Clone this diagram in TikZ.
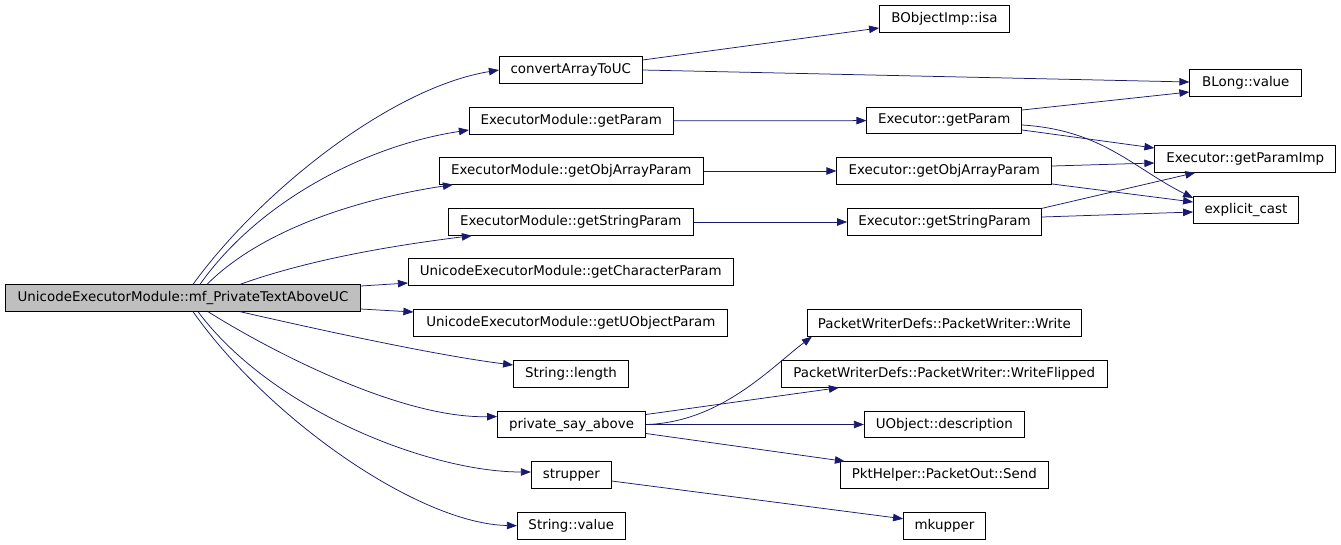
\documentclass[tikz,border=0pt]{standalone}
\usepackage{fontspec}
\setmainfont{DejaVu Sans}
\usepackage{tikz}
\usetikzlibrary{arrows.meta}
\definecolor{edgeblue}{HTML}{191970}
\definecolor{rootgray}{HTML}{BFBFBF}

\begin{document}
\begin{tikzpicture}[
  x=1pt,y=-1pt,
  fn/.style={draw=black,line width=0.8pt,fill=white,inner sep=0pt,minimum height=26.5pt,font=\fontsize{13.4}{16}\selectfont},
  rootfn/.style={fn,fill=rootgray},
  call/.style={-{Triangle[length=10pt,width=7.5pt]},line width=0.75pt,draw=edgeblue}
]
\useasboundingbox (0,0) rectangle (1341,544);
\node[rootfn,minimum width=355pt] (root) at (183,298) {UnicodeExecutorModule::mf\_PrivateTextAboveUC};
\node[fn,minimum width=143pt] (convert) at (570.8,70) {convertArrayToUC};
\node[fn,minimum width=130pt] (isa) at (944.5,19) {BObjectImp::isa};
\node[fn,minimum width=112pt] (blong) at (1245.8,83) {BLong::value};
\node[fn,minimum width=204pt] (modparam) at (571.3,121) {ExecutorModule::getParam};
\node[fn,minimum width=155pt] (exparam) at (944.3,120.5) {Executor::getParam};
\node[fn,minimum width=181pt] (paramimp) at (1245.3,159) {Executor::getParamImp};
\node[fn,minimum width=264pt] (modobjarr) at (571.3,171) {ExecutorModule::getObjArrayParam};
\node[fn,minimum width=215pt] (exobjarr) at (944.3,171) {Executor::getObjArrayParam};
\node[fn,minimum width=105pt] (cast) at (1246,210) {explicit\_cast};
\node[fn,minimum width=245pt] (modstring) at (570.8,222) {ExecutorModule::getStringParam};
\node[fn,minimum width=194pt] (exstring) at (944.5,222) {Executor::getStringParam};
\node[fn,minimum width=325pt] (charparam) at (570.8,272) {UnicodeExecutorModule::getCharacterParam};
\node[fn,minimum width=314pt] (uobjparam) at (570.8,323) {UnicodeExecutorModule::getUObjectParam};
\node[fn,minimum width=274pt] (write) at (944.3,323) {PacketWriterDefs::PacketWriter::Write};
\node[fn,minimum width=115pt] (length) at (571,374) {String::length};
\node[fn,minimum width=326pt] (flipped) at (944.3,374) {PacketWriterDefs::PacketWriter::WriteFlipped};
\node[fn,minimum width=148pt] (sayabove) at (571.5,424.5) {private\_say\_above};
\node[fn,minimum width=160pt] (descr) at (944.3,424.5) {UObject::description};
\node[fn,minimum width=208pt] (send) at (944.3,475) {PktHelper::PacketOut::Send};
\node[fn,minimum width=80pt] (strupper) at (571.3,475) {strupper};
\node[fn,minimum width=82pt] (mkupper) at (944.5,525.8) {mkupper};
\node[fn,minimum width=108pt] (strvalue) at (571.3,525.7) {String::value};
\draw[call] ([xshift=10pt]root.north) .. controls +(65,-90) and +(-110,18) .. (convert.west);
\draw[call] ([xshift=17pt]root.north) .. controls +(60,-85) and +(-100,15) .. ([yshift=-9pt]modparam.west);
\draw[call] ([xshift=24pt]root.north) .. controls +(60,-60) and +(-80,12) .. ([xshift=14pt]modobjarr.south west);
\draw[call] ([xshift=57pt]root.north) .. controls +(70,-25) and +(-80,10) .. ([xshift=24pt]modstring.south west);
\draw[call] ([yshift=12pt]root.east) -- ([yshift=-11pt]charparam.west);
\draw[call] ([yshift=-11pt]root.east) -- ([yshift=11pt]uobjparam.west);
\draw[call] ([xshift=57pt]root.south) .. controls +(70,16) and +(-80,-10) .. ([yshift=9pt]length.west);
\draw[call] ([xshift=25pt]root.south) .. controls +(62,39) and +(-97,2) .. ([yshift=8pt]sayabove.west);
\draw[call] ([xshift=15pt]root.south) .. controls +(74,99) and +(-101,0) .. ([yshift=3pt]strupper.west);
\draw[call] ([xshift=10pt]root.south) .. controls +(77,109) and +(-97,-2) .. (strvalue.west);
\draw[call] ([yshift=10pt]convert.east) -- ([yshift=-9pt]isa.west);
\draw[call] (convert.east) -- ([yshift=1pt]blong.west);
\draw[call] (modparam) -- (exparam);
\draw[call] ([yshift=10.5pt]exparam.east) -- ([yshift=-9pt]blong.west);
\draw[call] ([yshift=-9.5pt]exparam.east) -- ([yshift=11pt]paramimp.west);
\draw[call] ([yshift=-4.5pt]exparam.east) .. controls +(80,5) and +(-60,-30) .. ([yshift=12pt]cast.west);
\draw[call] (modobjarr) -- (exobjarr);
\draw[call] ([yshift=5pt]exobjarr.east) -- ([yshift=-4pt]paramimp.west);
\draw[call] ([yshift=-13pt]exobjarr.east) -- ([yshift=8pt]cast.west);
\draw[call] (modstring) -- (exstring);
\draw[call] (exstring.north east) -- ([xshift=-50pt]paramimp.south);
\draw[call] ([yshift=5pt]exstring.east) -- ([yshift=-2pt]cast.west);
\draw[call] (sayabove.east) .. controls +(75,-2) and +(-40,30) .. ([xshift=5pt]write.south west);
\draw[call] ([yshift=10pt]sayabove.east) -- ([xshift=58pt]flipped.south west);
\draw[call] (sayabove) -- (descr);
\draw[call] ([yshift=-9pt]sayabove.east) -- ([xshift=5pt]send.north west);
\draw[call] ([yshift=-6pt]strupper.east) -- ([yshift=7pt]mkupper.west);
\end{tikzpicture}
\end{document}
